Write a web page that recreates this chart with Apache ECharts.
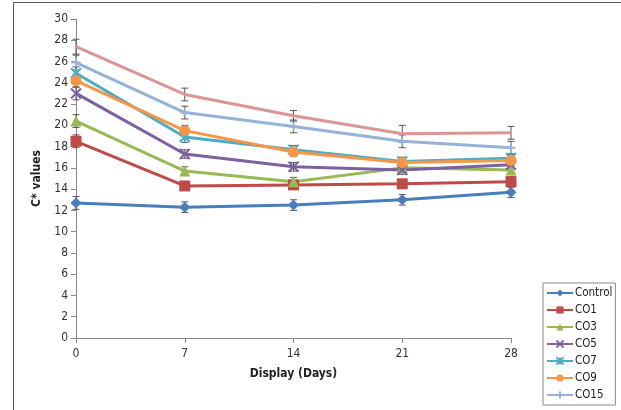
<!DOCTYPE html>
<html><head><meta charset="utf-8">
<script src="https://cdn.jsdelivr.net/npm/echarts@6/dist/echarts.min.js"></script>
<style>html,body{margin:0;padding:0;background:#fff}#c{width:621px;height:410px}</style>
</head><body><div id="c"></div>
<script>
const days = [0, 7, 14, 21, 28];
const yTicks = [0,2,4,6,8,10,12,14,16,18,20,22,24,26,28,30];
const control = [12.7, 12.3, 12.5, 13.0, 13.7];
const co1 = [18.5, 14.3, 14.4, 14.5, 14.7];
const co3 = [20.4, 15.7, 14.7, 16.0, 15.8];
const co5 = [23.0, 17.3, 16.1, 15.8, 16.3];
const co7 = [24.9, 18.9, 17.7, 16.6, 16.9];
const co9 = [24.2, 19.5, 17.5, 16.5, 16.7];
const co15 = [25.9, 21.2, 19.9, 18.5, 17.9];
const extra = [27.4, 22.9, 20.9, 19.2, 19.3];
const errControl = [0.6, 0.5, 0.5, 0.5, 0.5];
const errCo1 = [0.6, 0.4, 0.4, 0.4, 0.5];
const errCo3 = [0.6, 0.4, 0.4, 0.4, 0.4];
const errCo5 = [0.6, 0.4, 0.4, 0.4, 0.4];
const errCo7 = [0.6, 0.5, 0.4, 0.4, 0.4];
const errCo9 = [0.6, 0.5, 0.4, 0.4, 0.4];
const errCo15 = [0.7, 0.6, 0.6, 0.6, 0.6];
const errExtra = [0.7, 0.6, 0.5, 0.8, 0.6];

const defs = [
  {name:'Control', v:control, e:errControl, color:'#4A7EBB', symbol:'diamond', size:11},
  {name:'CO1', v:co1, e:errCo1, color:'#BE4B48', symbol:'rect', size:11},
  {name:'CO3', v:co3, e:errCo3, color:'#98B954', symbol:'triangle', size:11},
  {name:'CO5', v:co5, e:errCo5, color:'#7D60A0', symbol:'path://M0,0L10,10M10,0L0,10', size:10, stroke:true},
  {name:'CO7', v:co7, e:errCo7, color:'#4BACC6', symbol:'path://M0,0L10,10M10,0L0,10M5,0L5,10', size:10, stroke:true},
  {name:'CO9', v:co9, e:errCo9, color:'#F79646', symbol:'circle', size:11},
  {name:'CO15', v:co15, e:errCo15, color:'#95B3D7', symbol:'path://M0,5L10,5M5,0L5,10', size:9, stroke:true},
  {name:'CO30', v:extra, e:errExtra, color:'#D99694', symbol:'none', size:0}
];
const font = "'Liberation Sans Narrow','DejaVu Sans Condensed','Liberation Sans',sans-serif";
const series = [];
defs.forEach(d => {
  series.push({
    name:d.name, type:'line', z:3,
    data: days.map((x,i)=>[x,d.v[i]]),
    symbol:d.symbol, symbolSize:d.size, showSymbol: d.symbol!=='none',
    lineStyle:{color:d.color, width:3},
    itemStyle: d.stroke ? {color:'rgba(0,0,0,0)', borderColor:d.color, borderWidth:2} : {color:d.color},
    emphasis:{disabled:true}
  });
});
defs.forEach(d => {
  series.push({
    type:'custom', z:2, silent:true,
    data: days.map((x,i)=>[x, d.v[i]-d.e[i], d.v[i]+d.e[i]]),
    renderItem:(params, api)=>{
      const lo = api.coord([api.value(0), api.value(1)]);
      const hi = api.coord([api.value(0), api.value(2)]);
      const w = 3.5;
      const st = {stroke:'#555', lineWidth:1};
      return {type:'group', children:[
        {type:'line', shape:{x1:lo[0],y1:lo[1],x2:hi[0],y2:hi[1]}, style:st},
        {type:'line', shape:{x1:lo[0]-w,y1:lo[1],x2:lo[0]+w,y2:lo[1]}, style:st},
        {type:'line', shape:{x1:hi[0]-w,y1:hi[1],x2:hi[0]+w,y2:hi[1]}, style:st}
      ]};
    }
  });
});
const chart = echarts.init(document.getElementById('c'));
chart.setOption({
  animation:false,
  textStyle:{fontFamily:font},
  grid:{left:76, right:110, top:19, bottom:72},
  graphic:[{type:'rect', shape:{x:13.5, y:2.5, width:640, height:440}, style:{fill:'none', stroke:'#555', lineWidth:1}, silent:true}],
  legend:{
    data: defs.slice(0,7).map(d=>d.name),
    orient:'vertical', left:543, top:283, itemWidth:26, itemHeight:9, itemGap:3,
    padding:[3,3,3,3], borderColor:'#888', borderWidth:1,
    textStyle:{fontSize:11.5, color:'#222', fontFamily:font, padding:[0,0,0,-3], lineHeight:14}
  },
  xAxis:{
    type:'value', min:0, max:28, interval:7,
    name:'Display (Days)', nameLocation:'middle', nameGap:30,
    nameTextStyle:{fontWeight:'bold', fontSize:12, color:'#222'},
    axisLine:{lineStyle:{color:'#888'}}, axisTick:{show:true, length:5, lineStyle:{color:'#888'}},
    axisLabel:{color:'#333', fontSize:12, margin:10},
    splitLine:{show:false}
  },
  yAxis:{
    type:'value', min:yTicks[0], max:yTicks[yTicks.length-1], interval:2,
    name:'C* values', nameLocation:'middle', nameGap:33,
    nameTextStyle:{fontWeight:'bold', fontSize:12, color:'#222'},
    axisLine:{show:true, lineStyle:{color:'#888'}}, axisTick:{show:true, length:5, lineStyle:{color:'#888'}},
    axisLabel:{color:'#333', fontSize:12, margin:8},
    splitLine:{show:false}
  },
  series
});
</script></body></html>
